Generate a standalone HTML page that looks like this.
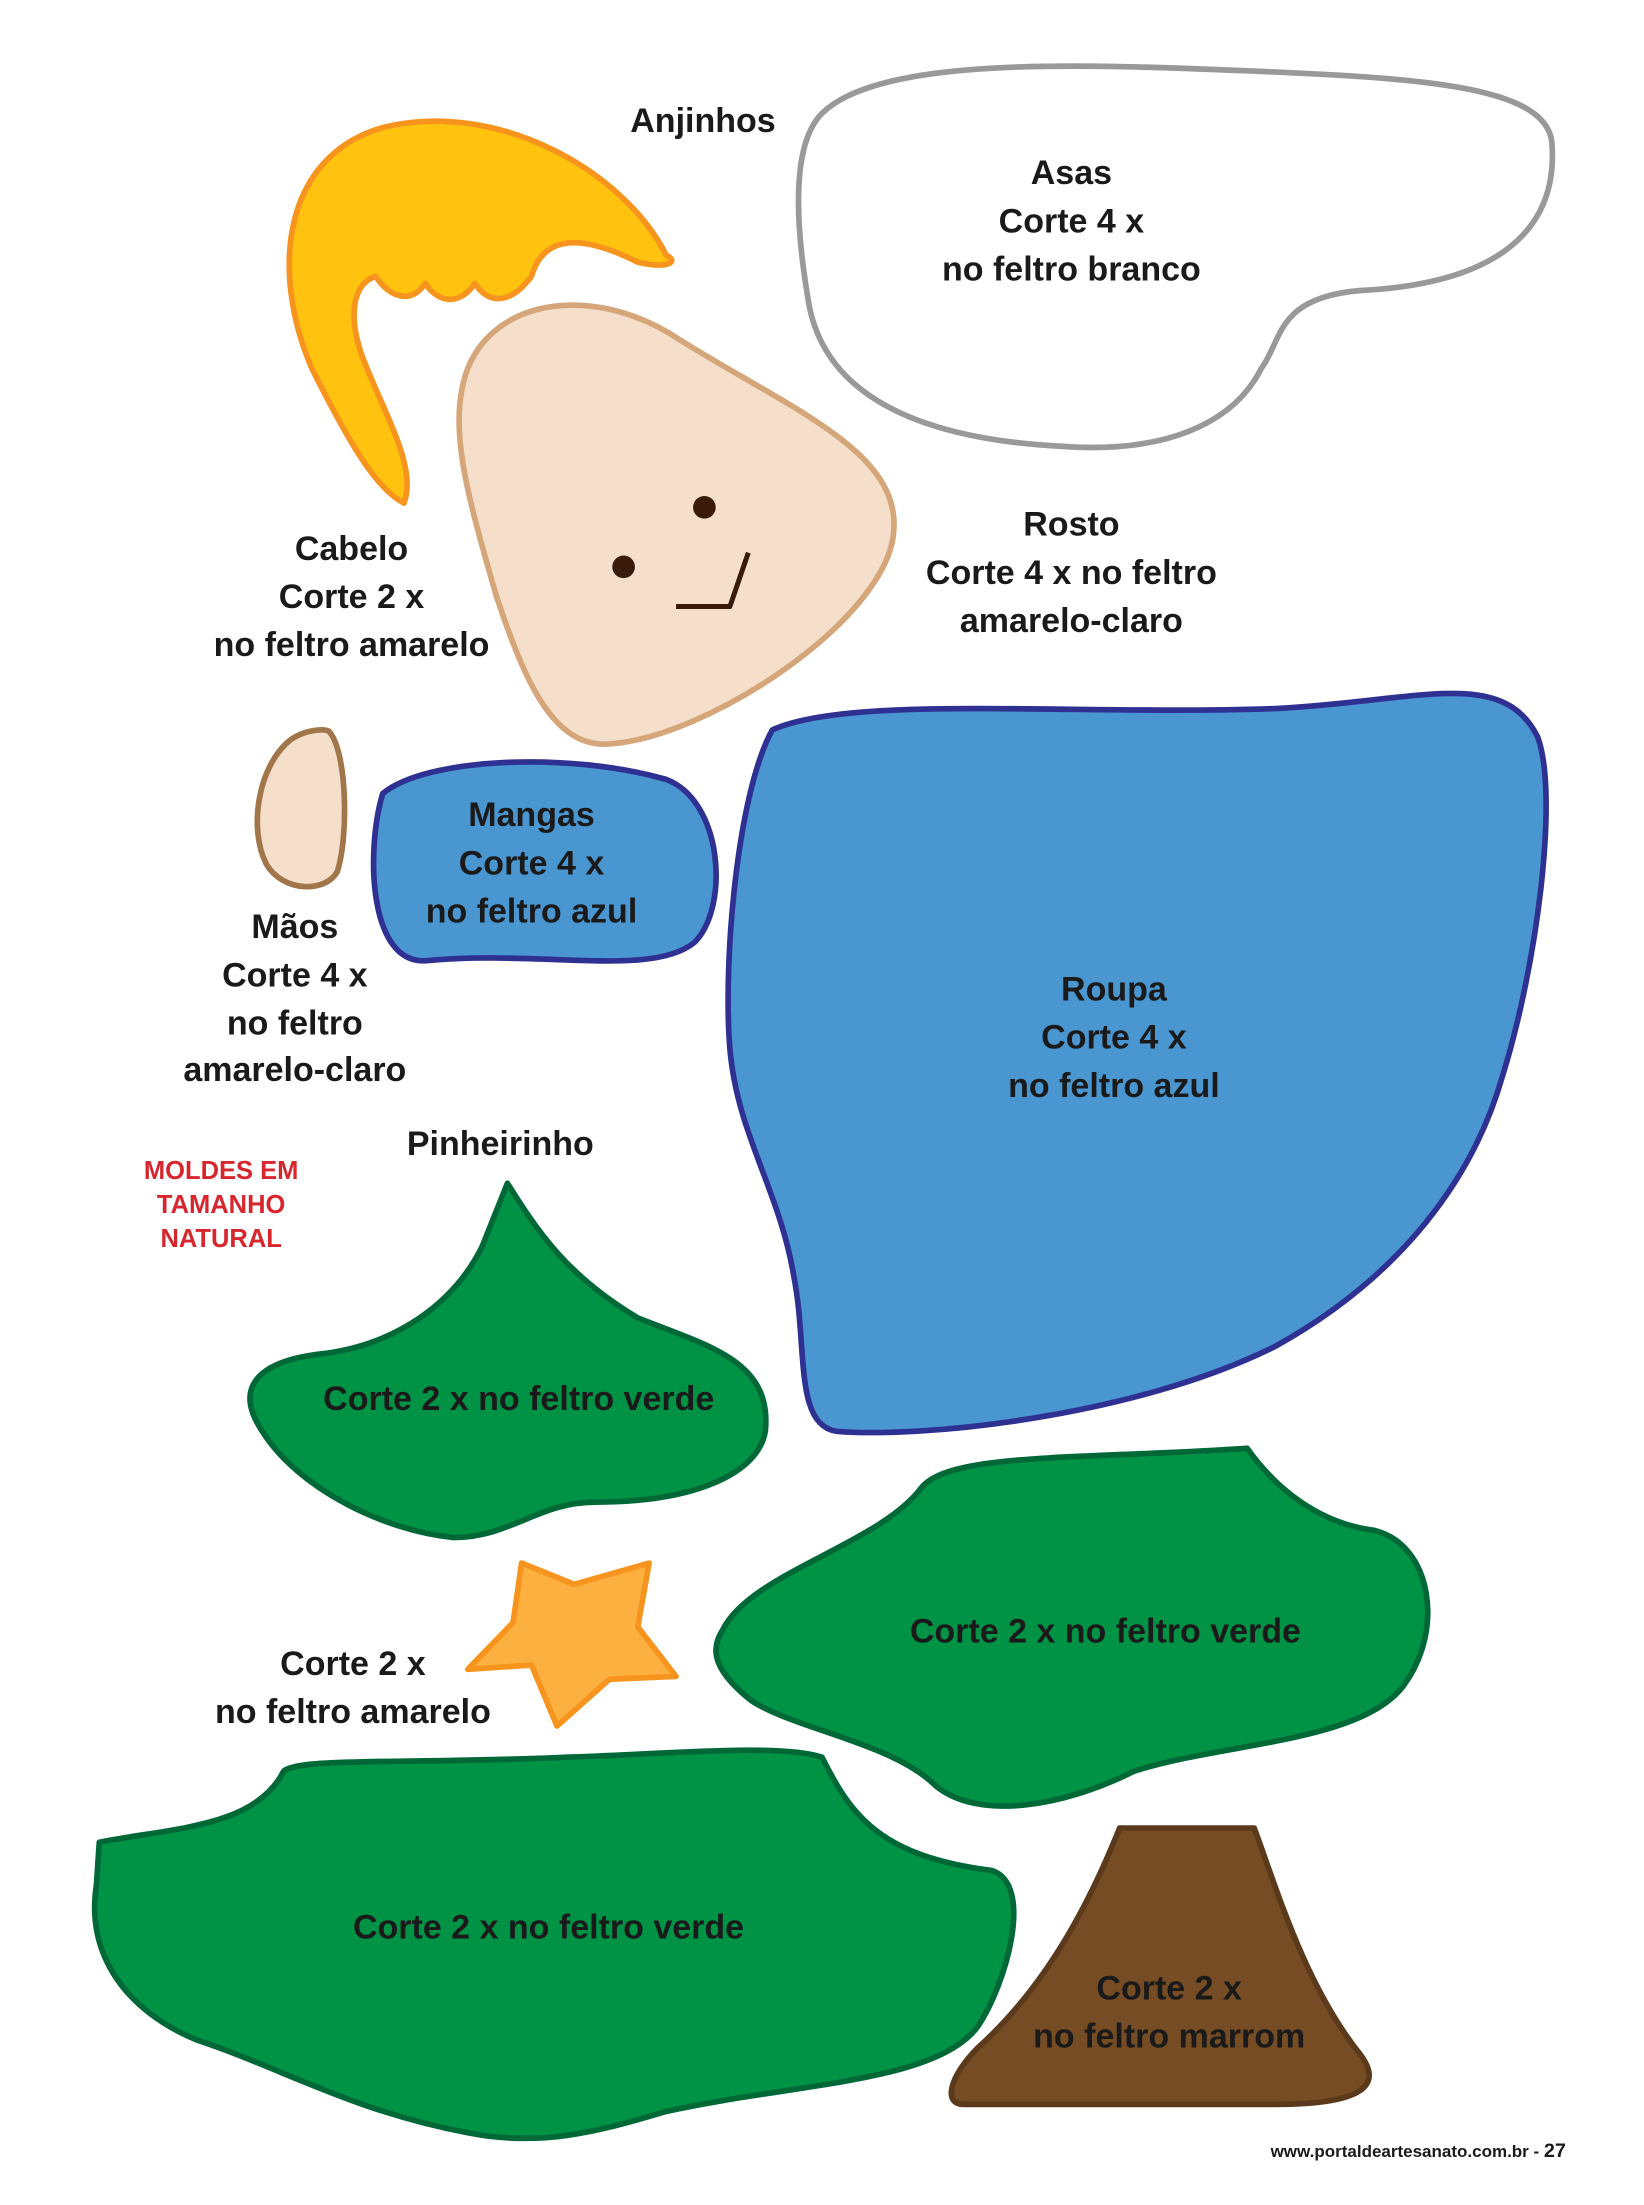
<!DOCTYPE html>
<html><head><meta charset="utf-8"><style>
html,body{margin:0;padding:0;background:#fff}
svg{display:block}
text{font-family:"Liberation Sans",sans-serif;font-weight:bold;fill:#1a1a1a;text-anchor:middle}
text.red{fill:#D7262E}
</style></head><body>
<svg width="1644" height="2205" viewBox="0 0 1160 1556" xmlns="http://www.w3.org/2000/svg">
<g stroke-width="4" stroke-linejoin="round">
<path d="M470,180 C440,120 350,70 270,90 C200,110 190,190 220,260 C245,310 265,345 285,355 C295,330 270,290 255,250 C245,220 250,200 265,195 C275,210 290,215 300,200 C310,215 325,215 335,200 C345,215 360,215 375,195 C385,160 420,170 450,185 C470,190 480,185 470,180 Z" fill="#FFC20E" stroke="#F7941D"/>
<path d="M330,260 C350,210 420,200 480,240 C560,290 640,320 630,380 C620,440 500,520 430,525 C390,528 370,480 350,420 C330,350 315,300 330,260 Z" fill="#F5DFCB" stroke="#D4A67A"/>
<circle cx="497" cy="358" r="8" fill="#3a1a0a"/>
<circle cx="440" cy="400" r="8" fill="#3a1a0a"/>
<path d="M477,428 L515,428 L528,390" fill="none" stroke="#3a1a0a" stroke-width="3.5"/>
<path d="M580,80 C620,40 760,45 880,50 C1000,55 1090,60 1095,100 C1100,160 1060,200 960,205 C900,210 905,240 890,260 C870,300 820,320 750,315 C650,310 580,280 570,210 C560,150 560,100 580,80 Z" fill="#fff" stroke="#999"/>
<path d="M232,516 C245,530 246,590 238,615 C230,630 200,630 188,610 C175,585 182,540 205,522 C215,515 228,514 232,516 Z" fill="#F5DFCB" stroke="#A0764A"/>
<path d="M270,560 C300,535 400,530 470,550 C510,565 515,640 490,665 C460,690 380,670 300,678 C260,680 258,600 270,560 Z" fill="#4A96D0" stroke="#2E3192"/>
<path d="M545,515 C600,490 760,505 900,500 C1000,495 1060,470 1085,520 C1100,560 1085,680 1060,760 C1040,830 990,900 900,950 C800,1000 650,1015 590,1010 C560,1005 570,950 560,900 C550,840 520,800 515,740 C510,680 520,560 545,515 Z" fill="#4A96D0" stroke="#2E3192"/>
<path d="M358,835 C380,870 400,900 450,930 C500,950 545,960 540,1010 C535,1040 490,1060 420,1060 C380,1060 360,1085 320,1085 C270,1080 210,1050 185,1010 C165,980 180,960 230,955 C280,948 320,920 340,880 Z" fill="#009245" stroke="#006837"/>
<polygon points="368,1103 405,1118 458,1103 450,1148 477,1183 430,1185 393,1218 375,1175 330,1178 362,1145" fill="#FBB040" stroke="#F7941D"/>
<path d="M510,1150 C530,1110 620,1090 650,1050 C670,1025 760,1030 880,1022 C900,1050 930,1075 970,1080 C1010,1090 1020,1150 990,1190 C960,1230 860,1230 800,1250 C750,1275 690,1285 660,1260 C630,1230 560,1220 530,1200 C505,1180 500,1165 510,1150 Z" fill="#009245" stroke="#006837"/>
<path d="M70,1300 C120,1290 180,1290 200,1250 C210,1240 290,1245 400,1240 C470,1238 550,1230 580,1240 C600,1280 620,1310 700,1320 C730,1330 710,1400 690,1430 C660,1470 560,1470 470,1490 C420,1505 380,1515 330,1505 C250,1490 200,1460 140,1440 C90,1420 60,1380 68,1330 Z" fill="#009245" stroke="#006837"/>
<path d="M790,1290 L885,1290 C900,1330 920,1400 960,1450 C975,1470 965,1485 900,1485 L680,1485 C665,1485 670,1465 690,1445 C740,1400 770,1340 790,1290 Z" fill="#754C24" stroke="#5A3A1A"/>
</g>
<g font-size="24">
<text x="496" y="93">Anjinhos</text>
<text x="756" y="130">Asas</text><text x="756" y="164">Corte 4 x</text><text x="756" y="198">no feltro branco</text>
<text x="248" y="395">Cabelo</text><text x="248" y="429">Corte 2 x</text><text x="248" y="463">no feltro amarelo</text>
<text x="756" y="378">Rosto</text><text x="756" y="412">Corte 4 x no feltro</text><text x="756" y="446">amarelo-claro</text>
<text x="375" y="583">Mangas</text><text x="375" y="617">Corte 4 x</text><text x="375" y="651">no feltro azul</text>
<text x="208" y="662">Mãos</text><text x="208" y="696">Corte 4 x</text><text x="208" y="730">no feltro</text><text x="208" y="763">amarelo-claro</text>
<text x="786" y="706">Roupa</text><text x="786" y="740">Corte 4 x</text><text x="786" y="774">no feltro azul</text>
<text x="353" y="815">Pinheirinho</text>
<text x="366" y="995">Corte 2 x no feltro verde</text>
<text x="249" y="1182">Corte 2 x</text><text x="249" y="1216">no feltro amarelo</text>
<text x="780" y="1159">Corte 2 x no feltro verde</text>
<text x="387" y="1368">Corte 2 x no feltro verde</text>
<text x="825" y="1411">Corte 2 x</text><text x="825" y="1445">no feltro marrom</text>
</g>
<g font-size="18">
<text class="red" x="156" y="832">MOLDES EM</text><text class="red" x="156" y="856">TAMANHO</text><text class="red" x="156" y="880">NATURAL</text>
</g>
<text x="1105" y="1522" font-size="12" style="text-anchor:end">www.portaldeartesanato.com.br - <tspan font-size="14">27</tspan></text>
</svg>
</body></html>
